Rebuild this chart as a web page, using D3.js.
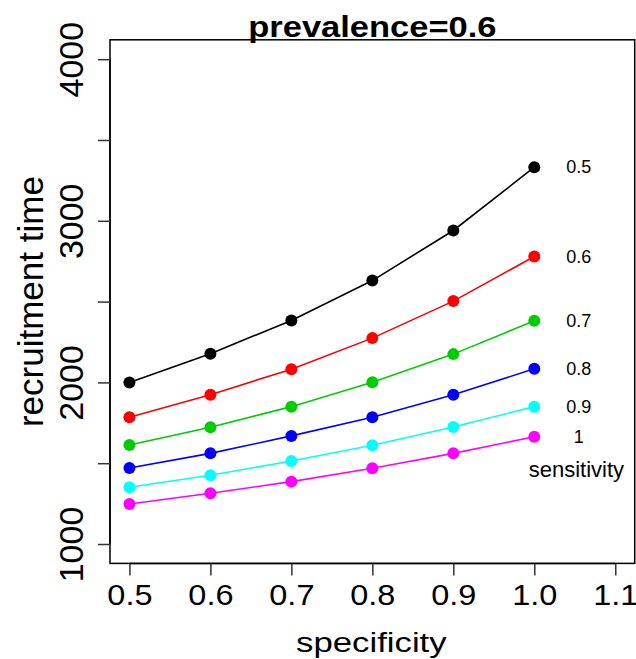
<!DOCTYPE html>
<html><head><meta charset="utf-8">
<script src="https://cdn.jsdelivr.net/npm/d3@7"></script>
<style>body{margin:0;background:#fff}text{font-family:"Liberation Sans",Arial,sans-serif}</style>
</head><body>
<script>
const specificity = [0.5, 0.6, 0.7, 0.8, 0.9, 1.0];
const sensitivity = ["0.5", "0.6", "0.7", "0.8", "0.9", "1"];
const colors = ["#000000", "#ff0000", "#00cd00", "#0000ff", "#00ffff", "#ff00ff"];
const sens05 = [2000, 2178, 2383, 2630, 2940, 3332];
const sens06 = [1784, 1924, 2082, 2274, 2503, 2779];
const sens07 = [1613, 1722, 1850, 2001, 2175, 2381];
const sens08 = [1470, 1561, 1669, 1784, 1923, 2084];
const sens09 = [1351, 1425, 1514, 1611, 1724, 1850];
const sens10 = [1248, 1314, 1386, 1469, 1561, 1664];
const xTicks = [0.5, 0.6, 0.7, 0.8, 0.9, 1.0, 1.1];
const xTickLabels = ["0.5", "0.6", "0.7", "0.8", "0.9", "1.0", "1.1"];
const yTicks = [1000, 1500, 2000, 2500, 3000, 3500, 4000];
const yTickLabels = ["1000", "", "2000", "", "3000", "", "4000"];
const series = [sens05, sens06, sens07, sens08, sens09, sens10];

const W = 636, H = 659;
const svg = d3.select("body").append("svg").attr("width", W).attr("height", H);
const x = d3.scaleLinear().domain([0.476, 1.124]).range([110, 634.7]);
const y = d3.scaleLinear().domain([880, 4120]).range([563.4, 39.8]);

// box
svg.append("rect").attr("x", x.range()[0]).attr("y", y.range()[1])
  .attr("width", x.range()[1] - x.range()[0]).attr("height", y.range()[0] - y.range()[1])
  .attr("fill", "none").attr("stroke", "#000").attr("stroke-width", 1.5);

// x axis
const gx = svg.append("g").attr("transform", `translate(0,${y.range()[0]})`)
  .call(d3.axisBottom(x).tickValues(xTicks).tickSize(12).tickPadding(9)
    .tickFormat((d, i) => xTickLabels[i]));
gx.select(".domain").attr("d", `M${x(0.5)},0H${x(1.1)}`).attr("stroke-width", 1.5);
gx.selectAll(".tick line").attr("stroke-width", 1.5).attr("stroke", "#333");
gx.selectAll(".tick text").attr("font-size", 29).attr("font-family", "Liberation Sans, Arial, sans-serif")
  .attr("fill", "#000").attr("transform", "scale(1.12,1)");

// y axis
const gy = svg.append("g").attr("transform", `translate(${x.range()[0]},0)`)
  .call(d3.axisLeft(y).tickValues(yTicks).tickSize(12).tickFormat((d, i) => yTickLabels[i]));
gy.select(".domain").attr("d", `M0,${y(1000)}V${y(4000)}`).attr("stroke-width", 1.5);
gy.selectAll(".tick line").attr("stroke-width", 1.5).attr("stroke", "#333");
gy.selectAll(".tick text").attr("font-size", 34).attr("font-family", "Liberation Sans, Arial, sans-serif")
  .attr("fill", "#000").attr("text-anchor", "middle").attr("x", 0).attr("dy", 0)
  .attr("transform", "translate(-27,0) rotate(-90)");

// titles
const cx = (x.range()[0] + x.range()[1]) / 2;
svg.append("text").attr("transform", `translate(${cx},37) scale(1.15,1)`)
  .attr("text-anchor", "middle").attr("font-weight", "bold").attr("font-size", 30).text("prevalence=0.6");
svg.append("text").attr("transform", `translate(${cx - 1},652) scale(1.22,1)`)
  .attr("text-anchor", "middle").attr("font-size", 28.5).text("specificity");
svg.append("text").attr("transform", `translate(43,${(y.range()[0] + y.range()[1]) / 2}) rotate(-90)`)
  .attr("text-anchor", "middle").attr("font-size", 35).text("recruitment time");

// lines and points
const line = d3.line().x((d, i) => x(specificity[i])).y(d => y(d));
series.forEach((s, k) => {
  svg.append("path").attr("d", line(s)).attr("fill", "none").attr("stroke", colors[k]).attr("stroke-width", 1.6);
  svg.selectAll(null).data(s).enter().append("circle")
    .attr("cx", (d, i) => x(specificity[i])).attr("cy", d => y(d)).attr("r", 6).attr("fill", colors[k]);
  svg.append("text").attr("x", x(1.055)).attr("y", y(s[s.length - 1])).attr("dy", "0.35em")
    .attr("text-anchor", "middle").attr("font-size", 18).text(sensitivity[k]);
});
svg.append("text").attr("x", x(1.052)).attr("y", y(1460)).attr("dy", "0.35em")
  .attr("text-anchor", "middle").attr("font-size", 22).text("sensitivity");
</script>
</body></html>
